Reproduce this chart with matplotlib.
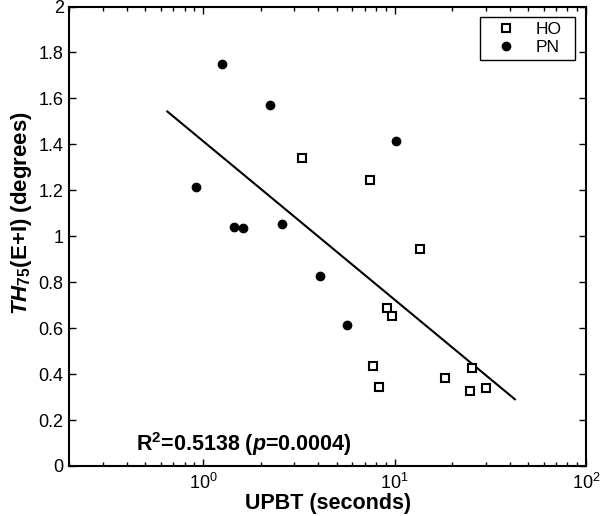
import numpy as np
import matplotlib
matplotlib.use("Agg")
import matplotlib.pyplot as plt
from matplotlib.ticker import LogLocator, NullFormatter

plt.rcParams['font.family'] = ['Liberation Sans', 'DejaVu Sans']
plt.rcParams['mathtext.fontset'] = 'custom'
plt.rcParams['mathtext.rm'] = 'Liberation Sans'
plt.rcParams['mathtext.it'] = 'Liberation Sans:italic'
plt.rcParams['mathtext.bf'] = 'Liberation Sans:bold'
plt.rcParams['mathtext.bfit'] = 'Liberation Sans:italic:bold'

# HO group (open squares)
ho_upbt = [3.30, 7.40, 13.5, 9.08, 9.73, 7.74, 8.29, 18.4, 25.5, 24.7, 29.9]
ho_th = [1.342, 1.246, 0.943, 0.686, 0.654, 0.434, 0.344, 0.384, 0.425, 0.326, 0.338]

# PN group (filled circles)
pn_upbt = [1.25, 2.24, 0.92, 1.45, 1.61, 2.58, 4.08, 10.2, 5.65]
pn_th = [1.750, 1.570, 1.216, 1.042, 1.036, 1.055, 0.827, 1.416, 0.612]

# regression line: th = a + b*log10(upbt)
fit_a = 1.414
fit_b = -0.690
fit_range = [0.65, 42.5]

fig = plt.figure(figsize=(6, 5.16), dpi=100)
ax = fig.add_axes([0.1155, 0.0969, 0.8612, 0.8905])

xs = np.logspace(np.log10(fit_range[0]), np.log10(fit_range[1]), 50)
ax.plot(xs, fit_a + fit_b * np.log10(xs), color='black', lw=1.5)

ax.plot(ho_upbt, ho_th, 's', mfc='white', mec='black', mew=1.5, ms=6, label='HO')
ax.plot(pn_upbt, pn_th, 'o', color='black', ms=6, label='PN')

ax.set_xscale('log')
ax.set_xlim(0.2, 100)
ax.set_ylim(0, 2)
ax.set_yticks(np.arange(0, 2.01, 0.2))
ax.set_yticklabels(['0', '0.2', '0.4', '0.6', '0.8', '1', '1.2', '1.4', '1.6', '1.8', '2'])
ax.xaxis.set_major_locator(LogLocator(base=10))
ax.xaxis.set_minor_locator(LogLocator(base=10, subs=np.arange(2, 10)))
ax.xaxis.set_minor_formatter(NullFormatter())

ax.tick_params(which='both', direction='in', top=True, right=True, labelsize=13)
ax.tick_params(which='major', length=5, width=1)
ax.tick_params(which='minor', length=3, width=1)
ax.tick_params(axis='x', pad=5)
ax.tick_params(axis='y', pad=4)
for s in ax.spines.values():
    s.set_linewidth(1.5)

ax.set_xlabel('UPBT (seconds)', fontsize=15.5, fontweight='bold', labelpad=0)
ax.set_ylabel(r'$\mathbfit{TH}_{\mathbf{75}}$(E+I) (degrees)', fontsize=16,
              fontweight='bold')
ax.yaxis.set_label_coords(-0.068, 0.55)

ax.text(0.2 * 10 ** (66.7 / 191), 0.065, r'R$^\mathbf{2}$=0.5138 ($\mathbfit{p}$=0.0004)',
        fontsize=15.5, fontweight='bold', va='baseline')

leg = ax.legend(loc='upper right', bbox_to_anchor=(0.795, 0.5, 0.184, 0.477),
                mode='expand', fontsize=12.5,
                fancybox=False, edgecolor='black', framealpha=1,
                handlelength=2.4, handletextpad=0.5, borderpad=0.3,
                labelspacing=0.15, borderaxespad=0)
leg.get_frame().set_linewidth(1.0)

fig.savefig('out.png', dpi=100)
